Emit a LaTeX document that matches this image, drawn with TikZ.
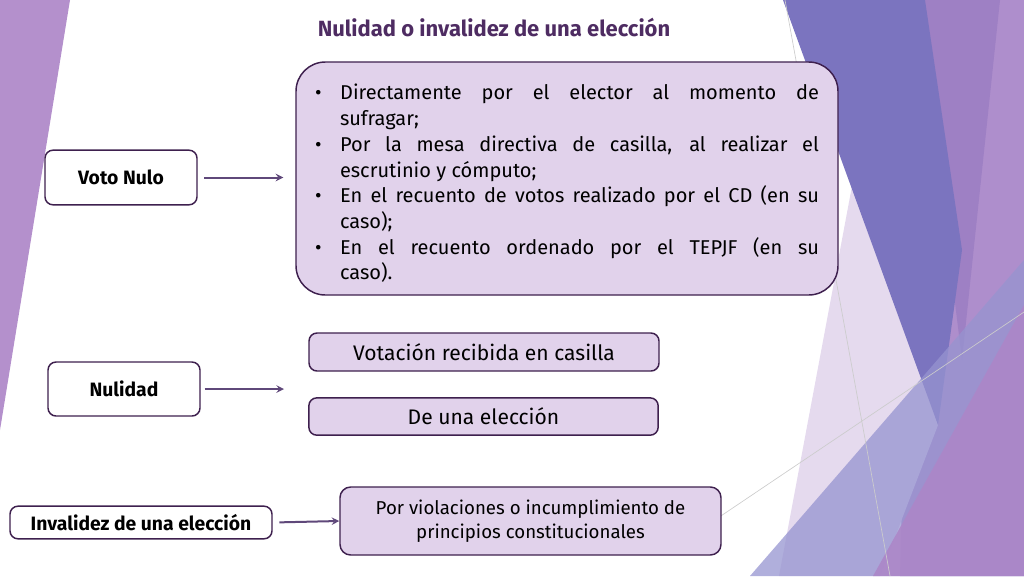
\documentclass[tikz,border=0pt]{standalone}
\usepackage{fontspec}
\setmainfont{Fira Sans}
\usetikzlibrary{positioning}
\definecolor{titulo}{RGB}{78,44,98}
\definecolor{borde}{RGB}{62,32,78}
\definecolor{flecha}{RGB}{95,72,122}
\definecolor{lila}{RGB}{225,210,235}
\definecolor{morado}{RGB}{180,144,204}
\definecolor{azul}{RGB}{123,116,191}
\definecolor{malva}{RGB}{158,128,196}
\definecolor{malvaclaro}{RGB}{174,142,204}
\definecolor{lavanda}{RGB}{229,218,238}
\definecolor{azulclaro}{RGB}{150,148,208}
\definecolor{violeta}{RGB}{172,134,200}

\begin{document}
\begin{tikzpicture}[x=0.75pt,y=-0.75pt,
  caja/.style={shape=rectangle, rounded corners=6pt, draw=borde, line width=1.1pt, fill=white, align=center, font=\fontsize{14.5}{17}\selectfont\bfseries},
  opcion/.style={shape=rectangle, rounded corners=6pt, draw=borde, line width=1.1pt, fill=lila, align=center, font=\fontsize{15.8}{18}\selectfont},
  flechita/.style={line width=1.5pt, flecha, -stealth}]
\useasboundingbox (0,0) rectangle (1024,576);

% fondo
\fill[morado] (0,0) -- (70,0) -- (0,430) -- cycle;
\fill[malvaclaro] (915,0) -- (1024,0) -- (1024,576) -- (900,576) -- cycle;
\fill[malva] (918,0) -- (1000,0) -- (962,360) -- cycle;
\fill[lavanda] (855,170) -- (938,425) -- (880,576) -- (779,576) -- cycle;
\fill[azul] (783,0) -- (925,0) -- (962,250) -- (938,425) -- cycle;
\fill[azulclaro, opacity=0.75] (750,576) -- (1024,260) -- (1024,576) -- cycle;
\fill[violeta, opacity=0.9] (873,576) -- (1024,305) -- (1024,576) -- cycle;
\draw[black!20, line width=0.5pt] (785,0) -- (890,576);
\draw[black!20, line width=0.5pt] (700,530) -- (1024,312);

\node[font=\fontsize{16.5}{19}\selectfont\bfseries, text=titulo] (titulo) at (494,27) {Nulidad o invalidez de una elección};

\node[caja, minimum width=114pt, minimum height=41pt] (voto) at (121,177.5) {Voto Nulo};
\node[caja, minimum width=114pt, minimum height=40.5pt] (nulidad) at (124,389) {Nulidad};
\node[caja, minimum width=196.5pt, minimum height=24.5pt, inner ysep=1pt] (invalidez) at (141,522.5) {Invalidez de una elección};

\node[shape=rectangle, rounded corners=22pt, draw=borde, line width=1.1pt, fill=lila, minimum width=406.5pt, minimum height=174.75pt, text width=378pt, align=justify, inner sep=0pt, font=\fontsize{15}{19.3}\selectfont] (lista) at (567,178.5) {%
  \hyphenpenalty=10000
  \begin{list}{\textbullet}{\setlength{\leftmargin}{18.75pt}\setlength{\labelsep}{14pt}\setlength{\labelwidth}{4.75pt}%
    \setlength{\itemsep}{0pt}\setlength{\parsep}{0pt}\setlength{\topsep}{0pt}\setlength{\partopsep}{0pt}}
  \item Directamente por el elector al momento de\linebreak sufragar;
  \item Por la mesa directiva de casilla, al realizar el\linebreak escrutinio y cómputo;
  \item En el recuento de votos realizado por el CD (en su\linebreak caso);
  \item En el recuento ordenado por el TEPJF (en su\linebreak caso).
  \end{list}};

\node[opcion, minimum width=262.5pt, minimum height=28.5pt] (casilla) at (484,352) {Votación recibida en casilla};
\node[opcion, minimum width=262pt, minimum height=28pt] (eleccion) at (483.5,416.5) {De una elección};
\node[opcion, rounded corners=8pt, minimum width=285.75pt, minimum height=51pt, font=\fontsize{14}{18}\selectfont] (violaciones) at (530.5,521) {Por violaciones o incumplimiento de\\principios constitucionales};

\coordinate (ramas) at (284,389);

\draw[flechita, shorten <=5pt, shorten >=9pt] (voto.east) -- (voto.east -| lista.west);
\draw[flechita, shorten <=3pt] (nulidad.east) -- (ramas);
\draw[flechita, shorten <=5pt] (invalidez.east) -- (violaciones.west);
\end{tikzpicture}
\end{document}
